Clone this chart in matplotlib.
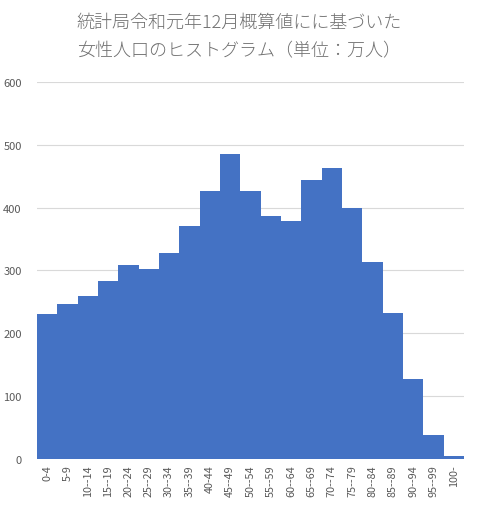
import numpy as np
import matplotlib
matplotlib.use('Agg')
import matplotlib.pyplot as plt

plt.rcParams['font.family'] = ['Noto Sans CJK JP', 'DejaVu Sans']

age_groups = ['0-4', '5-9', '10--14', '15--19', '20--24', '25--29', '30--34',
              '35--39', '40-44', '45--49', '50--54', '55--59', '60--64',
              '65--69', '70--74', '75--79', '80--84', '85--89', '90--94',
              '95--99', '100-']
female_pop = [231, 247, 259, 283, 308, 302, 327, 370, 426, 485, 426, 386,
              379, 443, 463, 399, 314, 233, 127, 38, 5]
y_ticks = [0, 100, 200, 300, 400, 500, 600]

fig = plt.figure(figsize=(4.78, 5.06), dpi=100)
ax = fig.add_axes([0.0774, 0.0909, 0.8933, 0.7455])

x = np.arange(len(age_groups))
ax.bar(x, female_pop, width=1.0, color='#4472C4', zorder=2)

ax.set_xlim(-0.5, len(age_groups) - 0.5)
ax.set_ylim(0, 600)
ax.set_yticks(y_ticks)
ax.set_xticks(x)
ax.set_xticklabels(age_groups, rotation=90, fontsize=7.8, color='#595959')
ax.tick_params(axis='y', labelsize=8, labelcolor='#595959', length=0, pad=11)
ax.tick_params(axis='x', length=0, pad=4)
ax.grid(axis='y', color='#D9D9D9', linewidth=0.8, zorder=0)
for s in ax.spines.values():
    s.set_visible(False)
ax.axhline(0, color='#D9D9D9', linewidth=0.8, zorder=1)

fig.text(0.5, 0.956, '統計局令和元年12月概算値にに基づいた', ha='center', va='center',
         fontsize=13, color='#707070', fontweight='light')
fig.text(0.5, 0.898, '女性人口のヒストグラム（単位：万人）', ha='center', va='center',
         fontsize=13, color='#707070', fontweight='light')

fig.savefig('out.png', dpi=100)
